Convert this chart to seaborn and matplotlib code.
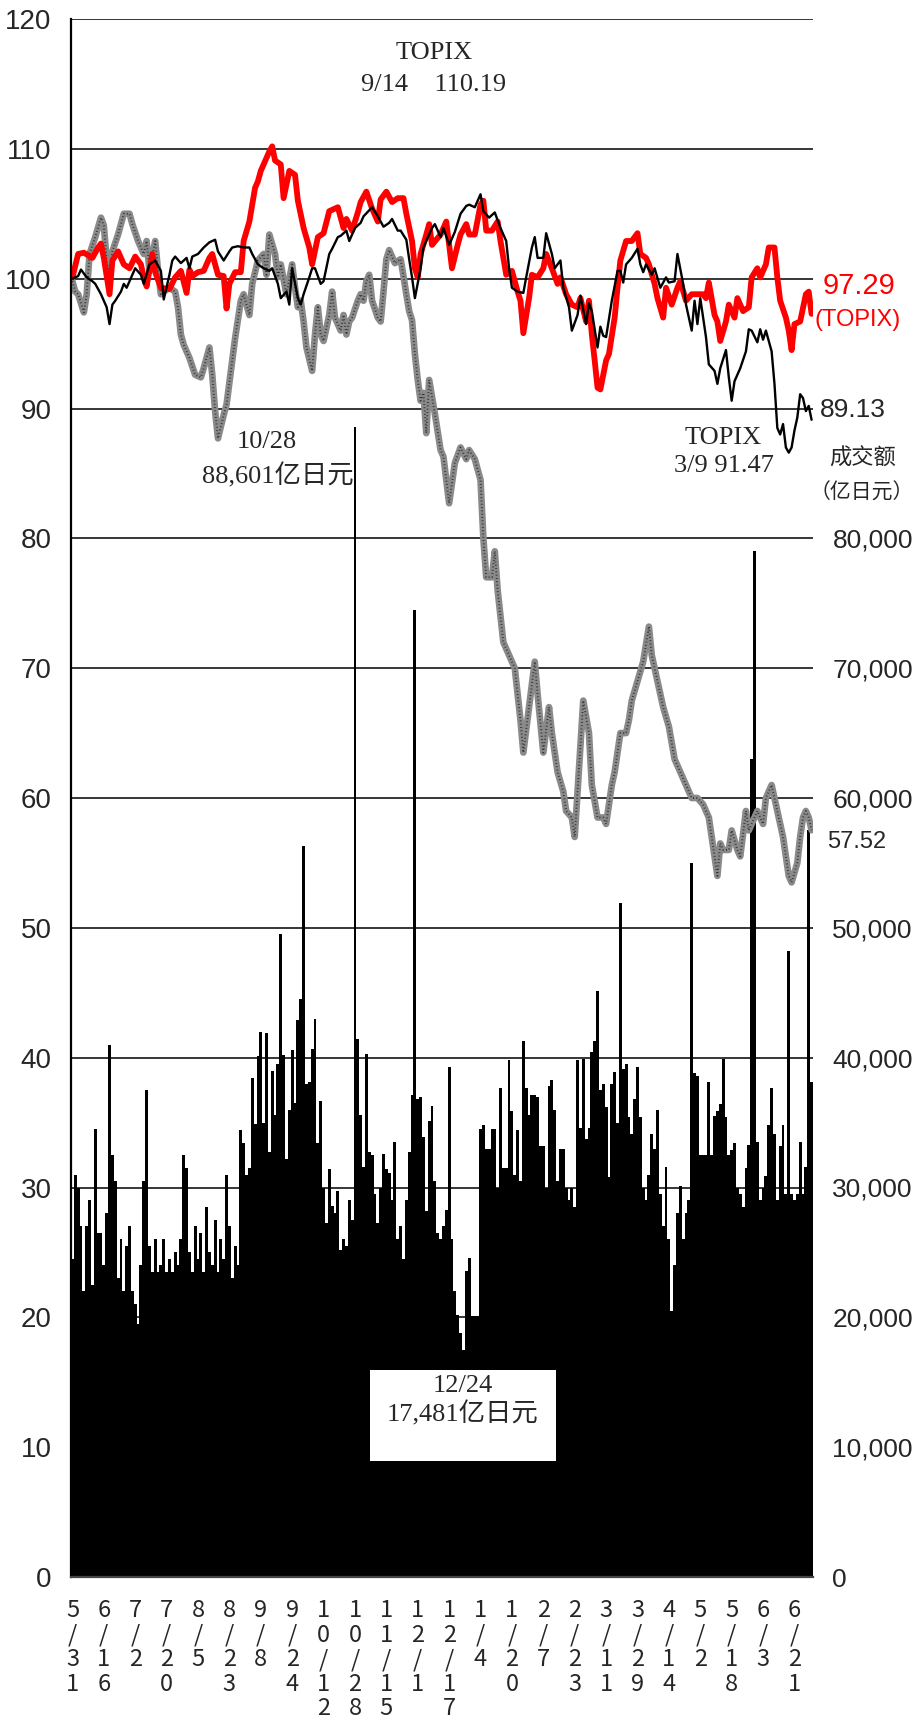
# TOPIX / index comparison chart with daily trading value (成交额)
# red = TOPIX, black = second index, gray = third index, bars = trading value

import matplotlib
matplotlib.use('Agg')
import matplotlib.pyplot as plt
import seaborn as sns
from matplotlib.patches import Rectangle

# ---------------------------------------------------------------- data
# x axis: one label every 11 trading days
tick_labels = ['5/31', '6/16', '7/2', '7/20', '8/5', '8/23', '9/8', '9/24',
               '10/12', '10/28', '11/15', '12/1', '12/17', '1/4', '1/20',
               '2/7', '2/23', '3/11', '3/29', '4/14', '5/2', '5/18', '6/3',
               '6/21']
tick_days = list(range(0, 254, 11))

# TOPIX (red), indexed to 100
red_days = [0, 2, 4, 7, 9, 10, 11, 13, 14, 16, 18, 20, 22, 24, 25, 26, 28, 29,
            31, 34, 36, 38, 40, 41, 42, 44, 46, 48, 49, 51, 53, 54, 55, 57, 59,
            60, 62, 64, 65, 66, 67, 69, 70, 71, 73, 74, 76, 78, 79, 81, 83, 84,
            86, 88, 90, 91, 93, 95, 96, 98, 100, 101, 103, 105, 107, 108, 110,
            112, 114, 116, 117, 119, 120, 121, 122, 124, 125, 126, 129, 131,
            133, 135, 136, 138, 139, 141, 143, 144, 145, 147, 149, 150, 152,
            154, 156, 157, 158, 160, 161, 163, 165, 166, 168, 170, 171, 173,
            175, 177, 178, 180, 181, 182, 183, 184, 185, 187, 188, 190, 191,
            192, 194, 196, 198, 199, 201, 202, 204, 205, 207, 208, 210, 212,
            213, 215, 217, 219, 221, 222, 223, 225, 226, 227, 229, 230, 232,
            233, 235, 237, 238, 240, 241, 243, 244, 246, 247, 248, 250, 251,
            252, 253, 255, 257, 258, 259]
red_vals = [100.1, 101.9, 102.0, 101.6, 102.4, 102.7, 101.6, 98.8, 101.4,
            102.1, 101.1, 100.8, 101.7, 101.1, 100.1, 99.4, 101.9, 100.5, 99.3,
            99.2, 100.1, 100.6, 98.9, 100.7, 100.2, 100.5, 100.6, 101.6, 101.9,
            100.3, 100.2, 97.7, 99.6, 100.5, 100.5, 102.9, 104.4, 107.0, 107.5,
            108.3, 108.8, 109.8, 110.19, 109.1, 108.8, 106.2, 108.3, 108.0,
            106.0, 103.9, 102.4, 101.1, 103.2, 103.5, 105.2, 105.3, 105.5,
            103.9, 104.6, 103.7, 105.1, 105.9, 106.7, 105.4, 104.4, 106.1,
            106.7, 105.9, 106.2, 106.2, 105.0, 102.9, 100.8, 100.1, 101.9,
            103.4, 104.2, 102.6, 103.4, 104.4, 100.8, 102.6, 103.4, 104.2,
            103.4, 103.4, 105.7, 106.0, 103.7, 103.7, 104.4, 102.9, 100.3,
            100.6, 99.0, 98.3, 95.8, 98.5, 100.3, 100.1, 100.8, 101.9, 100.8,
            99.6, 100.1, 98.8, 98.0, 97.8, 98.5, 96.7, 98.3, 95.7, 93.7, 91.6,
            91.47, 93.7, 94.2, 97.0, 99.3, 101.4, 102.9, 102.9, 103.5, 101.9,
            101.6, 101.1, 99.6, 98.5, 97.0, 99.3, 98.0, 99.3, 99.8, 98.3, 98.8,
            98.8, 98.8, 98.5, 99.7, 97.2, 96.7, 95.2, 96.7, 98.0, 97.0, 98.5,
            97.5, 97.8, 100.1, 100.8, 100.1, 101.1, 102.4, 102.4, 100.1, 98.3,
            97.0, 96.0, 94.5, 96.5, 96.7, 98.8, 99.0, 97.29]

# second index (black)
blk_days = [0, 2, 3, 5, 7, 8, 10, 12, 13, 14, 15, 17, 18, 19, 21, 22, 24, 25,
            27, 29, 31, 32, 34, 35, 36, 38, 40, 41, 42, 44, 46, 48, 50, 51, 53,
            55, 56, 58, 60, 62, 63, 65, 67, 69, 70, 72, 73, 75, 76, 77, 79, 80,
            81, 83, 84, 85, 87, 88, 90, 91, 93, 94, 96, 97, 99, 101, 102, 105,
            107, 109, 111, 112, 114, 115, 117, 118, 119, 120, 122, 123, 125,
            126, 127, 129, 130, 132, 134, 136, 138, 139, 141, 143, 144, 146,
            148, 150, 152, 153, 154, 156, 158, 159, 161, 162, 163, 165, 166,
            168, 169, 171, 172, 174, 175, 177, 178, 180, 181, 182, 184, 185,
            186, 187, 189, 191, 192, 193, 194, 196, 198, 199, 200, 201, 203,
            204, 206, 208, 209, 211, 212, 214, 215, 216, 217, 218, 219, 220,
            222, 223, 225, 226, 227, 229, 230, 231, 232, 234, 236, 237, 238,
            240, 241, 242, 243, 245, 246, 247, 248, 249, 250, 251, 252, 253,
            254, 255, 256, 257, 258, 259]
blk_vals = [100.0, 100.2, 100.7, 100.1, 99.8, 99.6, 98.8, 97.8, 96.5, 98.0,
            98.3, 99.0, 99.6, 99.3, 100.3, 100.8, 100.3, 99.6, 101.1, 101.4,
            100.6, 98.4, 100.3, 101.4, 101.7, 101.2, 101.6, 100.8, 101.7,
            101.9, 102.4, 102.8, 103.0, 102.1, 101.4, 102.1, 102.4, 102.5,
            102.4, 102.4, 101.9, 101.1, 100.8, 100.6, 100.8, 99.6, 98.5, 99.0,
            98.0, 100.8, 98.5, 98.0, 98.8, 100.1, 100.8, 100.8, 99.6, 99.8,
            101.9, 102.3, 103.2, 103.3, 103.7, 102.9, 103.9, 104.3, 104.8,
            105.5, 104.8, 104.0, 104.3, 104.6, 103.7, 103.7, 103.0, 101.5,
            100.1, 98.5, 100.8, 102.4, 103.4, 103.9, 104.2, 103.2, 103.9,
            102.6, 103.6, 105.0, 105.6, 105.7, 105.5, 106.5, 105.2, 104.7,
            105.1, 103.9, 102.9, 100.8, 99.3, 99.0, 98.9, 100.1, 102.4, 103.2,
            101.6, 101.6, 103.5, 101.9, 100.8, 101.4, 99.3, 97.8, 96.0, 97.2,
            98.7, 96.5, 98.1, 97.5, 94.7, 96.3, 95.6, 95.5, 98.3, 100.6, 100.6,
            99.7, 101.1, 101.6, 102.3, 101.1, 100.5, 101.1, 100.3, 100.8, 99.3,
            100.1, 99.7, 99.8, 101.9, 99.6, 98.0, 97.0, 96.0, 98.3, 96.5, 98.5,
            95.5, 93.4, 92.9, 91.9, 93.1, 94.5, 92.4, 90.6, 92.1, 93.1, 94.4,
            96.1, 96.0, 95.1, 96.1, 95.3, 96.0, 94.4, 91.9, 88.5, 88.0, 88.8,
            87.0, 86.6, 87.0, 88.3, 89.3, 91.1, 90.8, 89.8, 90.2, 89.13]

# third index (gray dotted)
gry_days = [0, 1, 2, 4, 5, 6, 8, 10, 11, 12, 13, 14, 16, 18, 20, 21, 23, 25,
            26, 27, 29, 30, 31, 32, 34, 36, 37, 38, 39, 41, 43, 45, 46, 48, 49,
            50, 51, 53, 54, 56, 57, 59, 60, 62, 63, 65, 67, 68, 69, 71, 72, 73,
            75, 77, 78, 79, 80, 81, 82, 84, 85, 86, 87, 88, 90, 91, 92, 94, 95,
            96, 97, 98, 100, 101, 102, 103, 104, 105, 107, 108, 109, 110, 111,
            113, 115, 116, 117, 118, 119, 120, 121, 122, 123, 124, 125, 127,
            129, 130, 132, 134, 136, 138, 139, 141, 143, 144, 145, 147, 148,
            149, 151, 153, 155, 157, 158, 160, 162, 163, 165, 167, 168, 170,
            172, 173, 175, 176, 178, 179, 181, 182, 184, 186, 187, 189, 190,
            192, 194, 195, 196, 198, 200, 202, 203, 205, 206, 207, 209, 211,
            213, 215, 217, 219, 221, 223, 224, 225, 226, 227, 228, 230, 231,
            233, 234, 236, 237, 238, 240, 242, 243, 245, 246, 248, 249, 251,
            252, 254, 255, 256, 257, 258, 259]
gry_vals = [99.8, 99.0, 98.8, 97.4, 98.8, 101.9, 103.2, 104.7, 104.1, 101.4,
            100.3, 102.1, 103.4, 105.0, 105.0, 104.2, 102.9, 101.9, 102.9,
            100.6, 102.9, 100.6, 98.8, 99.0, 99.3, 99.0, 97.8, 95.7, 94.9,
            93.9, 92.6, 92.4, 93.1, 94.7, 92.6, 89.8, 87.7, 89.5, 90.3, 93.7,
            95.4, 98.3, 98.8, 97.2, 99.6, 101.4, 101.9, 100.3, 103.4, 101.9,
            100.1, 101.1, 98.8, 101.1, 99.3, 97.8, 98.3, 96.7, 94.7, 92.9, 95.7,
            97.8, 95.7, 95.2, 97.2, 99.0, 97.0, 96.0, 97.2, 95.7, 96.7, 97.0,
            98.3, 98.8, 98.3, 99.8, 100.3, 98.3, 97.0, 96.7, 99.0, 101.5, 102.2,
            101.2, 101.5, 100.2, 98.8, 97.5, 96.8, 94.2, 92.2, 90.6, 91.2, 88.1,
            92.2, 89.6, 86.8, 86.3, 82.7, 85.8, 87.0, 86.1, 86.8, 86.1, 84.5,
            80.0, 77.0, 77.0, 79.0, 76.0, 72.0, 71.0, 70.0, 66.0, 63.5, 67.0,
            70.5, 68.0, 63.5, 67.0, 65.0, 62.0, 60.5, 59.0, 58.5, 57.0, 64.0,
            67.5, 65.0, 61.0, 58.5, 58.5, 58.0, 61.0, 62.0, 65.0, 65.0, 66.0,
            67.5, 69.0, 70.5, 73.2, 71.0, 69.0, 68.0, 67.0, 65.5, 63.0, 62.0,
            61.0, 60.0, 60.0, 59.5, 58.5, 57.0, 55.5, 54.0, 56.5, 56.0, 56.0,
            57.5, 56.0, 55.5, 59.0, 57.5, 58.0, 59.0, 58.0, 60.0, 61.0, 60.0,
            58.0, 57.0, 54.0, 53.5, 55.0, 57.0, 58.5, 59.0, 58.5, 57.52]

# daily trading value, 亿日元 (one per trading day, 260 days)
volume = [
    24500, 31000, 30000, 27000, 22000, 27000, 29000, 22500, 34500, 26500,
    26500, 24000, 28000, 41000, 32500, 30500, 23000, 26000, 22000, 25500,
    27000, 22000, 21000, 19500, 24000, 30500, 37500, 25500, 23500, 26000,
    23500, 24000, 26000, 23500, 24500, 23500, 25000, 24000, 26000, 32500,
    31500, 25000, 23500, 27000, 24500, 26500, 23500, 28500, 25000, 24000,
    27500, 23500, 26000, 24500, 31000, 27000, 23000, 25500, 24000, 34400,
    33400, 31000, 31500, 38400, 34900, 40100, 42000, 35000, 41900, 32700,
    39000, 35600, 39500, 49500, 40200, 32200, 36000, 40600, 36500, 42900,
    44500, 56300, 38000, 38100, 40700, 43000, 33400, 36700, 30000, 27300,
    31400, 28600, 28000, 29700, 25200, 26000, 25500, 29000, 27500, 88601,
    41400, 35600, 31600, 40300, 32700, 32500, 29500, 27300, 30000, 32600,
    31400, 31100, 29000, 33500, 26000, 27000, 24500, 29000, 32700, 37100,
    74500, 36800, 37000, 33900, 28200, 35100, 36300, 30500, 26500, 26000,
    27000, 28300, 39300, 26000, 22000, 20200, 18800, 17481, 23600, 24600,
    20100, 20100, 20100, 34500, 34800, 33000, 33000, 34500, 34500, 30000,
    37700, 31500, 31500, 39800, 35900, 31000, 34400, 30500, 41300, 37700,
    35600, 37100, 37100, 37000, 33200, 33200, 30000, 37800, 38300, 36000,
    30500, 33000, 33000, 30000, 29000, 30000, 28500, 39800, 34600, 39900,
    33700, 34600, 40400, 41300, 45100, 37500, 38000, 36200, 30800, 38000,
    38900, 35000, 51900, 39100, 39500, 35400, 34100, 36800, 39300, 35400,
    30000, 29000, 31000, 34100, 33000, 36000, 29500, 27000, 31600, 26000,
    20500, 24000, 28000, 30100, 26000, 28000, 29000, 55000, 38800, 38600,
    32500, 32500, 32500, 38100, 32500, 35500, 35900, 36400, 39900, 35400,
    32500, 32900, 33400, 30000, 29500, 28500, 31500, 33300, 63000, 79000,
    33500, 29000, 30000, 30900, 34800, 37700, 34100, 29000, 33200, 34800,
    29500, 48200, 29500, 29000, 29500, 33500, 29500, 31600, 57500, 38100,
]
vol_days = list(range(len(volume)))

# ---------------------------------------------------------------- style
sns.set_style('white')
SANS = ['Liberation Sans', 'Noto Sans CJK SC']
SERIF = ['Liberation Serif', 'Noto Sans CJK SC']
CJK = ['Noto Sans CJK SC', 'DejaVu Sans']
plt.rcParams['font.family'] = SANS

fig = plt.figure(figsize=(9.15, 17.35), dpi=100)
ax = fig.add_axes([71 / 915, 1 - 1577 / 1735, 742 / 915, 1558 / 1735])
ax2 = ax.twinx()

# volume bars on the right-hand scale
sns.barplot(x=vol_days, y=volume, ax=ax2, color='black', saturation=1,
            width=1.0, linewidth=0, errorbar=None, antialiased=False)
ax2.set_ylim(0, 120000)
ax2.set_yticks(range(0, 80001, 10000))
ax2.set_yticklabels([f'{v:,}' for v in range(0, 80001, 10000)])
ax2.tick_params(axis='y', length=0, pad=14, labelsize=19)
ax2.set_ylabel('')
for s in ax2.spines.values():
    s.set_visible(False)

# index lines on the left-hand scale, drawn above the bars
ax.set_zorder(ax2.get_zorder() + 1)
ax.patch.set_visible(False)

sns.lineplot(x=gry_days, y=gry_vals, ax=ax, color='#8a8a8a', lw=4.8,
             solid_joinstyle='round')
sns.lineplot(x=gry_days, y=gry_vals, ax=ax, color='black', lw=1.4,
             dashes=(0.5, 1.2), alpha=0.6)
sns.lineplot(x=red_days, y=red_vals, ax=ax, color='#ff0000', lw=4.2)
sns.lineplot(x=blk_days, y=blk_vals, ax=ax, color='black', lw=1.7)

ax.set_ylim(0, 120)
ax.set_xlim(-0.5, len(volume) - 0.5)
ax.set_yticks(range(0, 121, 10))
ax.tick_params(axis='y', length=0, pad=14, labelsize=20)
ax.yaxis.grid(True, color='black', lw=1.1)
ax.xaxis.grid(False)
ax.set_xticks(tick_days)
ax.set_xticklabels(['\n'.join(t) for t in tick_labels], fontsize=17,
                   linespacing=1.08, va='top', family=CJK)
ax.tick_params(axis='x', length=0, pad=16)
ax.set_xlabel('')
ax.set_ylabel('')
for side in ['top', 'right']:
    ax.spines[side].set_visible(False)
ax.spines['left'].set_color('black')
ax.spines['left'].set_linewidth(1.6)
ax.spines['bottom'].set_color('#444444')
ax.spines['bottom'].set_linewidth(1.6)

# ---------------------------------------------------------------- notes
ax.text(126.7, 117.4, 'TOPIX', ha='center', va='center', fontsize=19,
        family=SERIF)
ax.text(126.7, 114.9, '9/14\u3000110.19', ha='center', va='center',
        fontsize=19, family=SERIF)
ax.text(68.2, 87.4, '10/28', ha='center', va='center', fontsize=19,
        family=SERIF)
ax.text(72.0, 84.8, '88,601亿日元', ha='center', va='center', fontsize=19,
        family=SERIF)
ax.text(228.0, 87.7, 'TOPIX', ha='center', va='center', fontsize=19,
        family=SERIF)
ax.text(228.3, 85.6, '3/9 91.47', ha='center', va='center', fontsize=19,
        family=SERIF)

ax.text(263.0, 99.4, '97.29', ha='left', va='center', fontsize=21,
        color='#ff0000')
ax.text(260.2, 96.8, '(TOPIX)', ha='left', va='center', fontsize=17,
        color='#ff0000')
ax.text(262.0, 89.9, '89.13', ha='left', va='center', fontsize=19)
ax.text(264.4, 56.6, '57.52', ha='left', va='center', fontsize=17)
ax.text(277.0, 86.2, '成交额', ha='center', va='center', fontsize=16,
        family=CJK)
ax.text(276.7, 83.5, '（亿日元）', ha='center', va='center', fontsize=15,
        family=CJK)

# white box for the 12/24 low
ax.add_patch(Rectangle((104.3, 8.94), 65.1, 7.0, facecolor='white',
                       edgecolor='none', zorder=5))
ax.text(136.8, 14.7, '12/24', ha='center', va='center', fontsize=19,
        family=SERIF, zorder=6)
ax.text(136.8, 12.6, '17,481亿日元', ha='center', va='center', fontsize=19,
        family=SERIF, zorder=6)

fig.savefig('out.png', dpi=100)
